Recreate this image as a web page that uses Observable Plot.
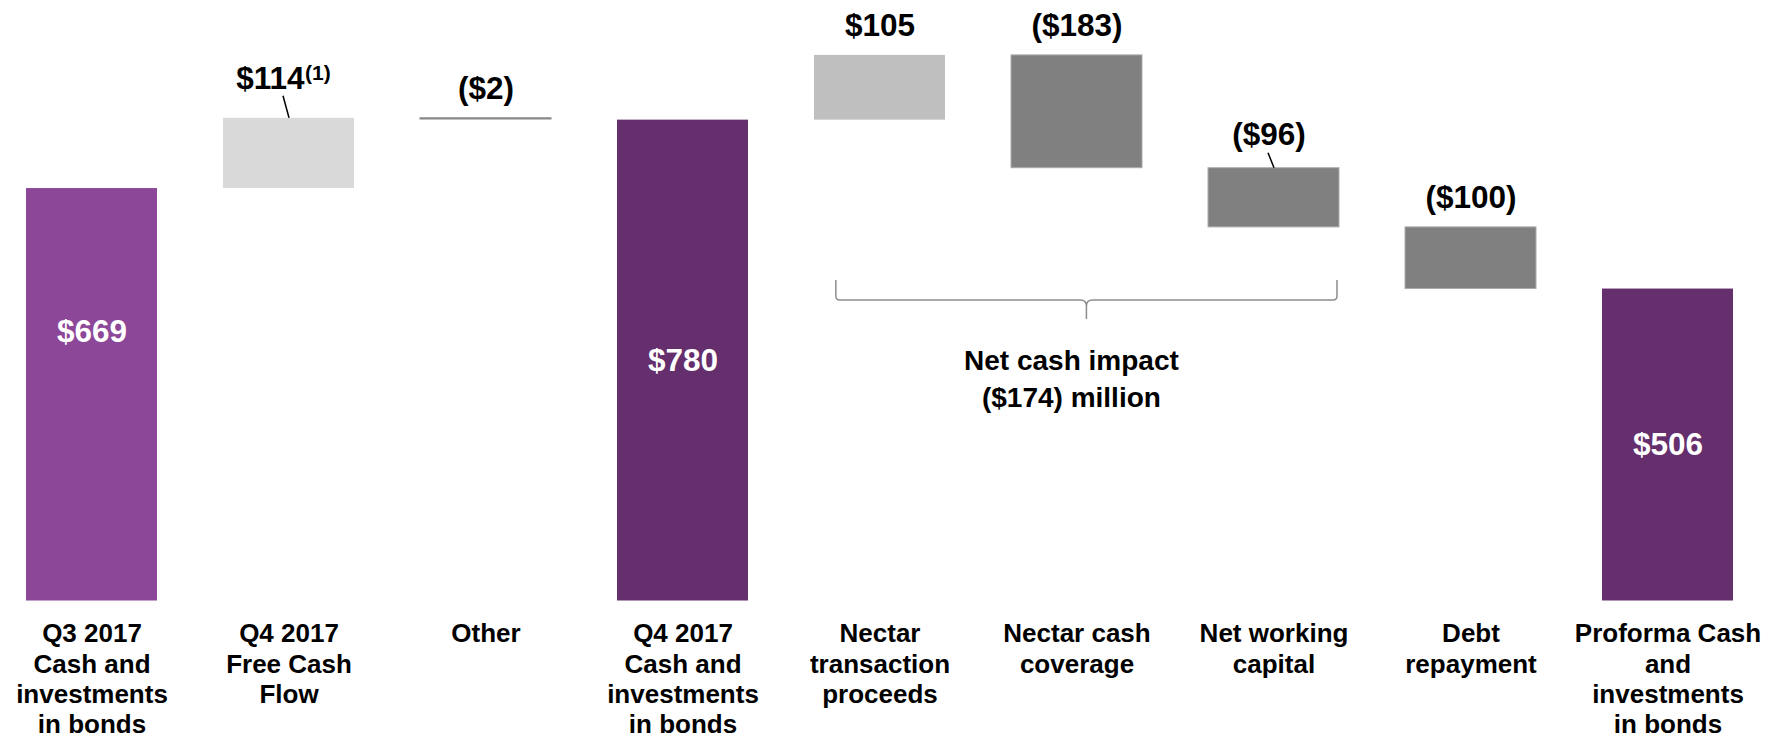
<!DOCTYPE html>
<html>
<head>
<meta charset="utf-8">
<script src="https://cdn.jsdelivr.net/npm/d3@7"></script>
<script src="https://cdn.jsdelivr.net/npm/@observablehq/plot@0.6"></script>
<style>
  html, body { margin: 0; padding: 0; background: #ffffff; }
  #chart svg { display: block; }
</style>
</head>
<body>
<div id="chart"></div>
<script>
// ---- data ----
const categories = [
  "Q3 2017\nCash and\ninvestments\nin bonds",
  "Q4 2017\nFree Cash\nFlow",
  "Other",
  "Q4 2017\nCash and\ninvestments\nin bonds",
  "Nectar\ntransaction\nproceeds",
  "Nectar cash\ncoverage",
  "Net working\ncapital",
  "Debt\nrepayment",
  "Proforma Cash\nand\ninvestments\nin bonds"
];
const values = [669, 114, -2, 780, 105, -183, -96, -100, 506];
const kinds = ["total", "delta", "delta", "total", "delta", "delta", "delta", "delta", "total"];
const valueLabels = ["$669", "$114", "($2)", "$780", "$105", "($183)", "($96)", "($100)", "$506"];
const footnoteMark = "(1)";
const bracketText = "Net cash impact\n($174) million";

// ---- styles ----
const barColors = ["#8C4799", "#D9D9D9", "#808080", "#652E6C", "#BFBFBF", "#808080", "#808080", "#808080", "#652E6C"];
const font = "'Liberation Sans', Arial, Helvetica, sans-serif";
const valueSize = 31.5;

// ---- waterfall table ----
let running = 0;
const rows = categories.map((cat, i) => {
  let y1, y2;
  if (kinds[i] === "total") { y1 = 0; y2 = values[i]; }
  else { y1 = running; y2 = running + values[i]; }
  running = y2;
  return {i, cat, y1, y2, top: Math.max(y1, y2), mid: (y1 + y2) / 2, label: valueLabels[i], kind: kinds[i]};
});

const leaderIdx = [1, 6];
const plainOutside = rows.filter(d => d.kind === "delta" && !leaderIdx.includes(d.i));

const chart = Plot.plot({
  width: 1783,
  height: 737,
  marginLeft: 22,
  marginRight: 46,
  marginTop: 45.65,
  marginBottom: 136.5,
  style: {fontFamily: font, background: "#ffffff", overflow: "visible"},
  x: {domain: categories, paddingInner: 1 / 3, paddingOuter: 0, axis: null},
  y: {domain: [0, 900], axis: null},
  color: {domain: categories, range: barColors},
  marks: [
    // bars
    Plot.barY(rows.filter(d => d.i !== 2), {
      x: "cat", y1: "y1", y2: "y2", fill: "cat",
      stroke: d => (values[d.i] < 0 ? "#ABABAB" : "none"), strokeWidth: 1
    }),
    // "Other" (tiny) bar drawn as a line
    Plot.barY(rows.filter(d => d.i === 2), {
      x: "cat", y1: "y1", y2: "y2", fill: "#808080", stroke: "#8a8a8a", strokeWidth: 1
    }),
    // value labels inside total bars
    Plot.text(rows.filter(d => d.kind === "total" && d.i !== 0), {
      x: "cat", y: "mid", text: "label", fill: "white", fontSize: valueSize, fontWeight: "bold"
    }),
    Plot.text(rows.filter(d => d.i === 0), {
      x: "cat", y: "mid", text: "label", fill: "white", fontSize: valueSize, fontWeight: "bold", dy: -63
    }),
    // value labels above delta bars
    Plot.text(plainOutside, {
      x: "cat", y: "top", text: "label", fill: "black", fontSize: valueSize, fontWeight: "bold",
      lineAnchor: "bottom", dy: -19
    }),
    // labels with leader lines
    Plot.text(rows.filter(d => d.i === 1), {
      x: "cat", y: "top", text: "label", fill: "black", fontSize: valueSize, fontWeight: "bold",
      lineAnchor: "bottom", textAnchor: "end", dx: 15.5, dy: -29
    }),
    Plot.text(rows.filter(d => d.i === 1), {
      x: "cat", y: "top", text: () => footnoteMark, fill: "black", fontSize: 21, fontWeight: "bold",
      lineAnchor: "bottom", textAnchor: "start", dx: 16, dy: -38
    }),
    Plot.text(rows.filter(d => d.i === 6), {
      x: "cat", y: "top", text: "label", fill: "black", fontSize: valueSize, fontWeight: "bold",
      lineAnchor: "bottom", dx: -5, dy: -23
    }),
    // category labels
    Plot.text(rows, {
      x: "cat", y: 0, text: "cat", fill: "black", fontSize: 26, fontWeight: "bold",
      lineAnchor: "top", lineHeight: 1.17, dy: 19.5
    })
  ]
});

document.getElementById("chart").appendChild(chart);

// ---- annotations: leader lines and bracket, placed through the chart's scales ----
const xs = chart.scale("x");
const ys = chart.scale("y");
const bw = xs.bandwidth;
const svg = d3.select(chart);
const g = svg.append("g").attr("fill", "none");

// leader lines
[[1, 22], [6, 15]].forEach(([i, len]) => {
  const cx = xs.apply(categories[i]) + bw / 2;
  const yTop = ys.apply(rows[i].top);
  g.append("line")
    .attr("x1", cx - 5.5).attr("y1", yTop - len)
    .attr("x2", cx + 0.5).attr("y2", yTop)
    .attr("stroke", "#000").attr("stroke-width", 1.5);
});

// bracket under the Nectar items
const left = xs.apply(categories[4]) + bw / 6;
const right = xs.apply(categories[6]) + bw - 2;
const mid = (left + right) / 2;
const yH = ys.apply(rows[6].y2) + 73;
const p = d3.path();
p.moveTo(left, yH - 20);
p.lineTo(left, yH - 4);
p.quadraticCurveTo(left, yH, left + 4, yH);
p.lineTo(mid - 6, yH);
p.quadraticCurveTo(mid, yH, mid, yH + 6);
p.lineTo(mid, yH + 19);
p.moveTo(mid, yH + 6);
p.quadraticCurveTo(mid, yH, mid + 6, yH);
p.lineTo(right - 4, yH);
p.quadraticCurveTo(right, yH, right, yH - 4);
p.lineTo(right, yH - 20);
g.append("path").attr("d", p.toString()).attr("stroke", "#8c8c8c").attr("stroke-width", 1.5);

const t = svg.append("text")
  .attr("text-anchor", "middle")
  .attr("font-family", font)
  .attr("font-size", 28)
  .attr("font-weight", "bold")
  .attr("fill", "#000");
bracketText.split("\n").forEach((line, k) => {
  t.append("tspan").attr("x", mid - 15).attr("y", yH + 70 + k * 37).text(line);
});
</script>
</body>
</html>
